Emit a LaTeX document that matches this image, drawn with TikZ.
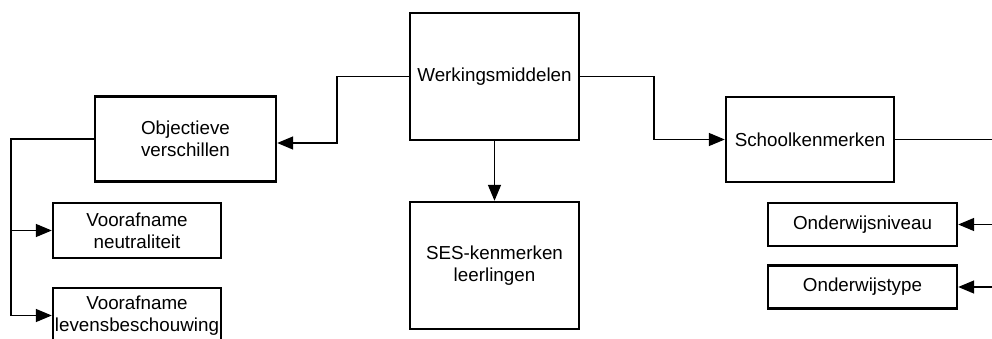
\documentclass[tikz,border=0pt]{standalone}
\usepackage{fontspec}
\setmainfont{Liberation Sans}
\usetikzlibrary{positioning,arrows.meta}
\tikzset {
    style A/.style={
        draw=black,
        line width=1.2pt,
        rectangle, % big box
        minimum width=84.5pt,
        minimum height=63.5pt,
        inner sep=0.5pt,
        align=center,
    },
    style B/.style={
        draw=black,
        line width=1.2pt,
        rectangle, % middle box
        minimum width=84pt,
        minimum height=42.5pt,
        inner sep=0.5pt,
        align=center,
    },
    style C/.style={
        draw=black,
        line width=1.2pt,
        rectangle, % small box, two lines
        minimum width=84pt,
        minimum height=27.5pt,
        inner sep=0.5pt,
        align=center,
    },
    style D/.style={
        draw=black,
        line width=1.2pt,
        rectangle, % small box, one line
        minimum width=94.5pt,
        minimum height=21.5pt,
        inner sep=0.5pt,
        align=center,
    },
    link/.style={draw=black, line width=0.75pt, -{Triangle[length=8pt,width=6.5pt]}},
}
\begin{document}
\begin{tikzpicture}
        [x=0.5pt, y=-0.5pt, font=\fontsize{9.4}{11}\selectfont]

        \useasboundingbox (0,0) rectangle (992,338);

        \node[style A] at (494.5, 76.5) (werk) {Werkingsmiddelen};
        \node[style A] at (494.5, 265.5) (ses) {SES-kenmerken\\leerlingen};
        \node[style B, minimum width=90.5pt] at (185.5, 139) (obj) {Objectieve\\verschillen};
        \node[style B] at (810, 139.5) (school) {Schoolkenmerken};
        \node[style C] at (137, 230.5) (neutr) {Voorafname\\neutraliteit};
        \node[style C] at (137, 315.5) (levens) {Voorafname\\levensbeschouwing};
        \node[style D] at (862.5, 224.5) (niveau) {Onderwijsniveau};
        \node[style D] at (862.5, 287) (type) {Onderwijstype};

        \draw[link] (werk.west) -- ++(-72,0) |- ([yshift=-2pt]obj.east);
        \draw[link] (werk.east) -- ++(74,0) |- (school.west);
        \draw[link] (werk.south) -- (ses.north);
        \draw[link] (obj.west) -- ++(-83,0) coordinate (lbus) |- (levens.west);
        \draw[link] (lbus |- neutr.west) -- (neutr.west);
        \draw[link] (school.east) -- ++(130,0) coordinate (rbus) |- (type.east);
        \draw[link] (rbus |- niveau.east) -- (niveau.east);
    \end{tikzpicture}
\end{document}
